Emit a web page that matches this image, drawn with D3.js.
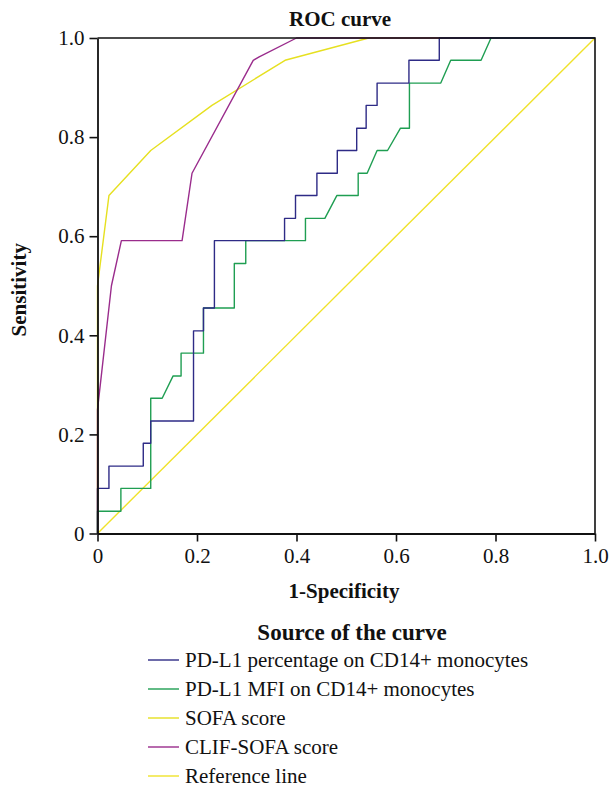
<!DOCTYPE html>
<html>
<head>
<meta charset="utf-8">
<script src="https://cdnjs.cloudflare.com/ajax/libs/d3/7.8.5/d3.min.js"></script>
</head>
<body style="margin:0;background:#fff">
<svg id="chart" width="612" height="790" style="font-family:'Liberation Serif'"></svg>
<script>
// tick values / labels
const ticks = [0, 0.2, 0.4, 0.6, 0.8, 1.0];
const tickLabels = ['0', '0.2', '0.4', '0.6', '0.8', '1.0'];

// curves: [1-specificity, sensitivity]
const pdl1Pct = [
  [0, 0], [0, 0.091], [0.023, 0.091], [0.023, 0.136], [0.092, 0.136], [0.092, 0.182],
  [0.107, 0.182], [0.107, 0.227], [0.193, 0.227], [0.193, 0.409], [0.213, 0.409],
  [0.213, 0.455], [0.235, 0.455], [0.235, 0.591], [0.376, 0.591], [0.376, 0.636],
  [0.398, 0.636], [0.398, 0.682], [0.441, 0.682], [0.441, 0.727], [0.482, 0.727],
  [0.482, 0.773], [0.521, 0.773], [0.521, 0.818], [0.54, 0.818], [0.54, 0.864],
  [0.562, 0.864], [0.562, 0.909], [0.626, 0.909], [0.626, 0.955], [0.687, 0.955],
  [0.687, 1], [1, 1]
];
const pdl1Mfi = [
  [0, 0], [0, 0.045], [0.047, 0.045], [0.047, 0.091], [0.107, 0.091], [0.107, 0.273],
  [0.13, 0.273], [0.152, 0.318], [0.168, 0.318], [0.168, 0.364], [0.213, 0.364],
  [0.213, 0.455], [0.275, 0.455], [0.275, 0.545], [0.298, 0.545], [0.298, 0.591],
  [0.418, 0.591], [0.418, 0.636], [0.457, 0.636], [0.481, 0.682], [0.524, 0.682],
  [0.524, 0.727], [0.542, 0.727], [0.562, 0.773], [0.583, 0.773], [0.609, 0.818],
  [0.627, 0.818], [0.627, 0.909], [0.69, 0.909], [0.71, 0.955], [0.771, 0.955],
  [0.791, 1], [1, 1]
];
const sofa = [
  [0, 0], [0, 0.5], [0.023, 0.682], [0.107, 0.773], [0.23, 0.864], [0.377, 0.955],
  [0.545, 1], [1, 1]
];
const clifSofa = [
  [0, 0], [0, 0.25], [0.028, 0.5], [0.048, 0.591], [0.17, 0.591], [0.19, 0.727],
  [0.313, 0.955], [0.325, 0.962], [0.4, 1], [1, 1]
];
const refLine = [[0, 0], [1, 1]];

const seriesNames = [
  'PD-L1 percentage on CD14+ monocytes',
  'PD-L1 MFI on CD14+ monocytes',
  'SOFA score',
  'CLIF-SOFA score',
  'Reference line'
];
const seriesColors = ['#2e2b86', '#1f9e52', '#e6e020', '#9a2c8c', '#f0e22a'];
const seriesData = [pdl1Pct, pdl1Mfi, sofa, clifSofa, refLine];

const FONT = 'Liberation Serif';

const svg = d3.select('#chart');
const plotL = 97.5, plotR = 595, plotT = 38, plotB = 533.5;

const x = d3.scaleLinear().domain([0, 1]).range([plotL, plotR]);
const y = d3.scaleLinear().domain([0, 1]).range([plotB, plotT]);

// draw order: reference first, so the curves sit on top
const order = [4, 2, 3, 1, 0];
const line = d3.line().x(d => x(d[0])).y(d => y(d[1]));
order.forEach(i => {
  svg.append('path')
    .datum(seriesData[i])
    .attr('d', line)
    .attr('fill', 'none')
    .attr('stroke', seriesColors[i])
    .attr('stroke-width', 1.4)
    .attr('stroke-linejoin', 'round');
});

// frame (top + right)
svg.append('path')
  .attr('d', `M${plotL},${plotT}H${plotR}V${plotB}`)
  .attr('fill', 'none')
  .attr('stroke', '#111')
  .attr('stroke-width', 1.6);

const xAxis = svg.append('g')
  .attr('transform', `translate(0,${plotB})`)
  .call(d3.axisBottom(x).tickValues(ticks).tickFormat((d, i) => tickLabels[i])
    .tickSize(8).tickSizeOuter(0).tickPadding(7));
const yAxis = svg.append('g')
  .attr('transform', `translate(${plotL},0)`)
  .call(d3.axisLeft(y).tickValues(ticks).tickFormat((d, i) => tickLabels[i])
    .tickSize(8).tickSizeOuter(0).tickPadding(5));

[xAxis, yAxis].forEach(g => {
  g.attr('font-family', FONT).attr('font-size', 21);
  g.select('.domain').attr('stroke', '#111').attr('stroke-width', 1.8);
  g.selectAll('.tick line').attr('stroke', '#111').attr('stroke-width', 1.6);
  g.selectAll('.tick text')
    .attr('fill', '#111')
    .attr('font-family', FONT)
    .attr('font-size', 21);
});

// title and axis labels
function label(px, py, str, size, bold) {
  return svg.append('text')
    .attr('x', px).attr('y', py)
    .attr('text-anchor', 'middle')
    .attr('font-family', FONT)
    .attr('font-size', size)
    .attr('font-weight', bold ? 'bold' : 'normal')
    .attr('fill', '#111')
    .text(str);
}

label(340, 26, 'ROC curve', 21, true);
label(344, 598, '1-Specificity', 21, true);
label(0, 0, 'Sensitivity', 21, true)
  .attr('transform', `translate(26,${(plotT + plotB) / 2 + 4}) rotate(-90)`);

// legend
label(352, 640, 'Source of the curve', 23, true);

const legend = svg.append('g');
seriesNames.forEach((name, i) => {
  const ly = 660 + i * 29;
  legend.append('line')
    .attr('x1', 148).attr('x2', 179)
    .attr('y1', ly).attr('y2', ly)
    .attr('stroke', seriesColors[i])
    .attr('stroke-width', 1.4);
  legend.append('text')
    .attr('x', 185).attr('y', ly + 7)
    .attr('font-family', FONT)
    .attr('font-size', 21)
    .attr('fill', '#111')
    .text(name);
});
</script>
</body>
</html>
